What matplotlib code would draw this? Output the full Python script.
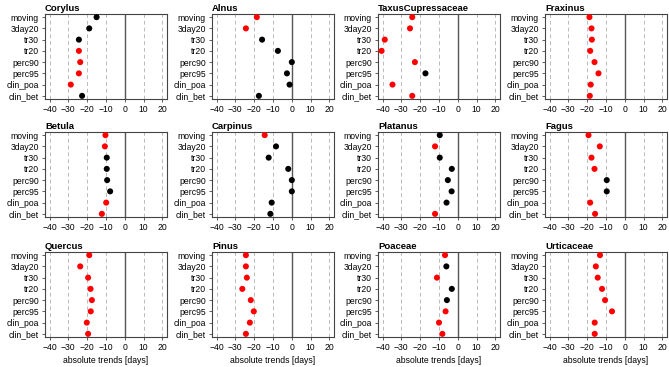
import numpy as np
import matplotlib.pyplot as plt

plt.rcParams['font.family'] = ['Liberation Sans', 'DejaVu Sans']

methods = ['moving', '3day20', 'tr30', 'tr20', 'perc90', 'perc95', 'clin_poa', 'clin_bet']
taxa = ['Corylus', 'Alnus', 'TaxusCupressaceae', 'Fraxinus',
        'Betula', 'Carpinus', 'Platanus', 'Fagus',
        'Quercus', 'Pinus', 'Poaceae', 'Urticaceae']

# absolute trends [days], one row per taxon, in order of methods
trends = [
    [-15.0, -18.9, -24.4, -24.4, -23.7, -24.4, -28.7, -22.7],
    [-18.6, -24.4, -15.8, -7.4, 0.0, -2.6, -1.2, -17.5],
    [-24.2, -25.4, -38.8, -40.5, -22.8, -17.2, -34.7, -24.2],
    [-18.8, -17.7, -17.5, -18.4, -16.1, -14.0, -18.1, -18.6],
    [-10.3, -10.6, -9.6, -9.6, -9.4, -7.8, -9.9, -12.2],
    [-14.4, -8.4, -12.3, -1.9, 0.0, 0.0, -10.7, -11.4],
    [-9.6, -12.1, -9.6, -3.2, -5.3, -3.3, -6.0, -12.1],
    [-19.3, -13.3, -17.7, -16.1, -9.6, -9.6, -18.4, -15.8],
    [-18.9, -23.7, -19.5, -18.2, -17.5, -18.1, -20.2, -19.5],
    [-24.4, -24.4, -23.9, -26.3, -21.8, -20.2, -22.3, -24.4],
    [-6.8, -6.1, -11.1, -3.2, -5.8, -6.5, -10.0, -8.2],
    [-13.2, -15.4, -14.4, -12.1, -10.5, -6.8, -16.0, -16.0],
]

# 1 = significant (red), 0 = not significant (black)
signif = [
    [0, 0, 0, 1, 1, 1, 1, 0],
    [1, 1, 0, 0, 0, 0, 0, 0],
    [1, 1, 1, 1, 1, 0, 1, 1],
    [1, 1, 1, 1, 1, 1, 1, 1],
    [1, 1, 0, 0, 0, 0, 1, 1],
    [1, 0, 0, 0, 0, 0, 0, 0],
    [0, 1, 0, 0, 0, 0, 0, 1],
    [1, 1, 1, 1, 0, 0, 1, 1],
    [1, 1, 1, 1, 1, 1, 1, 1],
    [1, 1, 1, 1, 1, 1, 1, 1],
    [1, 0, 1, 0, 0, 1, 1, 1],
    [1, 1, 1, 1, 1, 1, 1, 1],
]

xticks = [-40, -30, -20, -10, 0, 10, 20]

W, H = 669, 367
fig = plt.figure(figsize=(W / 100, H / 100), dpi=100)

lefts = [45, 212, 378, 545]
tops = [14, 132, 252]
aw, ah = 122, 85

ypos = np.arange(len(methods))[::-1] + 1

for i, name in enumerate(taxa):
    r, c = divmod(i, 4)
    ax = fig.add_axes([lefts[c] / W, 1 - (tops[r] + ah) / H, aw / W, ah / H])
    for xv in xticks:
        if xv == 0:
            ax.axvline(0, color='#555555', lw=1.0, zorder=1)
        else:
            ax.axvline(xv, color='#bbbbbb', lw=0.7, ls=(0, (4, 3)), zorder=1)
    cols = ['red' if s else 'black' for s in signif[i]]
    ax.scatter(trends[i], ypos, s=19, c=cols, zorder=3, linewidths=0)
    ax.set_xlim(-42.4, 22.4)
    ax.set_ylim(0.72, 8.28)
    ax.set_xticks(xticks)
    ax.set_yticks(ypos)
    ax.set_yticklabels(methods)
    ax.tick_params(labelsize=6.2, length=2.5, width=0.6, color='#444444', pad=2)
    for sp in ax.spines.values():
        sp.set_color('#444444')
        sp.set_linewidth(0.8)
    ax.set_title(name, loc='left', fontsize=6.8, fontweight='bold', pad=2.5)
    if r == 2:
        ax.set_xlabel('absolute trends [days]', fontsize=6.2, labelpad=3)

fig.savefig('out.png', dpi=100)
